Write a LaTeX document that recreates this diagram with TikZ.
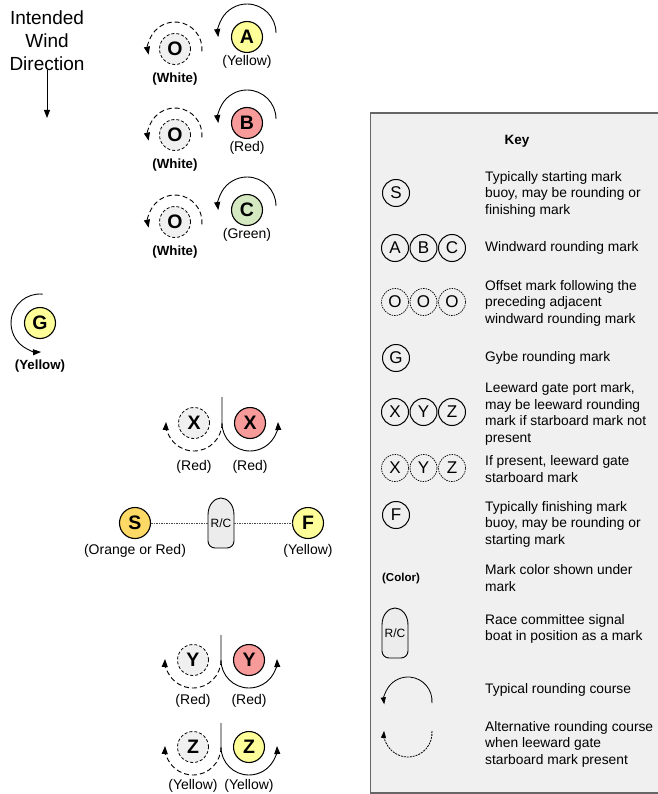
\documentclass[tikz,border=0pt]{standalone}
\usepackage{fontspec}
\setmainfont{Liberation Sans}
\usetikzlibrary{arrows.meta}
\definecolor{myyellow}{HTML}{FFFF99}
\definecolor{myred}{HTML}{F79A9A}
\definecolor{mygreen}{HTML}{D4E8C2}
\definecolor{myorange}{HTML}{FFD966}
\definecolor{offgray}{HTML}{F0F0F0}
\definecolor{boatgray}{HTML}{ECECEC}
\definecolor{keygray}{HTML}{F0F0F0}
\definecolor{keyborder}{HTML}{666666}
\newcommand\rcboatshape[1]{%
  \draw[line width=0.9pt, fill=boatgray, shift={(#1)}]
    (-13,8) .. controls (-13,19) and (-6,25) .. (0,25)
    .. controls (6,25) and (13,19) .. (13,8)
    -- (13,-18) arc[start angle=0,end angle=-90,radius=7]
    -- (-6,-25) arc[start angle=270,end angle=180,radius=7] -- cycle;}
\tikzset{
  buoy/.style={circle, draw, line width=1.1pt, minimum size=31pt, inner sep=0pt,
    font=\fontsize{19.5}{19.5}\selectfont\bfseries},
  offbuoy/.style={buoy, fill=offgray, dash pattern=on 3pt off 2pt, line width=0.8pt},
  lbl/.style={inner sep=0pt, font=\fontsize{14}{16}\selectfont},
  blbl/.style={inner sep=0pt, font=\fontsize{13.3}{16}\selectfont\bfseries},
  keybuoy/.style={circle, draw, line width=1pt, minimum size=27pt, inner sep=0pt,
    font=\fontsize{17}{17}\selectfont},
  keyoff/.style={keybuoy, dash pattern=on 1.5pt off 1pt, line width=0.7pt},
  keytxt/.style={anchor=west, inner sep=0pt, align=left, font=\fontsize{13.8}{16.5}\selectfont},
  course/.style={line width=0.9pt, -{Triangle[length=8pt,width=6pt]}},
  altcourse/.style={course, dash pattern=on 5pt off 3pt},
  keycourse/.style={line width=0.8pt, -{Triangle[length=7pt,width=5pt]}},
  keyalt/.style={keycourse, dash pattern=on 2pt off 1pt},
  boatlbl/.style={inner sep=0pt, font=\fontsize{12}{12}\selectfont},
  tether/.style={line width=0.6pt, draw=black!70, dash pattern=on 1.5pt off 1pt},
}
\begin{document}
\begin{tikzpicture}[x=1pt,y=1pt]
\useasboundingbox (0,0) rectangle (657,-794);

% Wind direction
\node[inner sep=0pt, align=center, font=\fontsize{19}{23}\selectfont] (wind) at (47,-41)
  {Intended\\Wind\\Direction};
\coordinate (wa) at (47,-70);
\coordinate (wb) at (47,-118);
\draw[line width=0.9pt, -{Triangle[length=8pt,width=6pt]}] (wa) -- (wb);

% Windward marks and offsets
\foreach \n/\L/\col/\cname/\yy in {1/A/myyellow/Yellow/37, 2/B/myred/Red/123, 3/C/mygreen/Green/210} {
  \node[buoy, fill=\col] (w\n) at (247,-\yy) {\L};
  \node[lbl] (w\n l) at (247,-\yy-25) {(\cname)};
  \draw[course] ([shift={(0,4)},shift={(0:29)}]w\n.center) arc[start angle=0,end angle=188,radius=29];
  \node[offbuoy] (o\n) at (175,-\yy-12) {O};
  \node[blbl] (o\n l) at (175,-\yy-42) {(White)};
  \draw[altcourse] ([shift={(-5:27)}]o\n.center) arc[start angle=-5,end angle=192,radius=27];
}

% Gybe mark
\node[buoy, fill=myyellow] (g) at (40,-323) {G};
\node[blbl] (gl) at (40,-366) {(Yellow)};
\draw[course] ([shift={(85:29)}]g.center) arc[start angle=85,end angle=272,radius=29];

% X gate
\coordinate (xtop) at (222,-397);
\node[offbuoy] (xl) at (194,-423) {X};
\node[buoy, fill=myred] (xr) at (250,-423) {X};
\node[lbl] (xll) at (194,-467) {(Red)};
\node[lbl] (xrl) at (250,-467) {(Red)};
\draw[course] (xtop) -- ([shift={(180:28)}]xr.center) arc[start angle=180,end angle=362,radius=28];
\draw[altcourse] ([shift={(0:28)}]xl.center) arc[start angle=0,end angle=-182,radius=28];

% Start / finish line
\rcboatshape{221,-523}
\node[boatlbl] (rc) at (221,-523) {R/C};
\node[buoy, fill=myorange] (s) at (135,-523) {S};
\node[buoy, fill=myyellow] (f) at (308,-523) {F};
\node[lbl] (sl) at (135,-551) {(Orange or Red)};
\node[lbl] (fl) at (308,-551) {(Yellow)};
\draw[tether] (s) -- (208,-523);
\draw[tether] (234,-523) -- (f);

% Y gate
\coordinate (ytop) at (221,-635);
\node[offbuoy] (yl) at (193,-660) {Y};
\node[buoy, fill=myred] (yr) at (249,-660) {Y};
\node[lbl] (yll) at (193,-701) {(Red)};
\node[lbl] (yrl) at (249,-701) {(Red)};
\draw[course] (ytop) -- ([shift={(180:28)}]yr.center) arc[start angle=180,end angle=362,radius=28];
\draw[altcourse] ([shift={(0:28)}]yl.center) arc[start angle=0,end angle=-182,radius=28];

% Z gate
\coordinate (ztop) at (221,-723);
\node[offbuoy] (zl) at (193,-747) {Z};
\node[buoy, fill=myyellow] (zr) at (249,-747) {Z};
\node[lbl] (zll) at (193,-786) {(Yellow)};
\node[lbl] (zrl) at (249,-786) {(Yellow)};
\draw[course] (ztop) -- ([shift={(180:28)}]zr.center) arc[start angle=180,end angle=362,radius=28];
\draw[altcourse] ([shift={(0:28)}]zl.center) arc[start angle=0,end angle=-182,radius=28];

% Key box
\draw[fill=keygray, draw=keyborder, line width=1.5pt] (370.5,-113) rectangle (668,-793);
\node[inner sep=0pt, font=\fontsize{13.5}{15}\selectfont\bfseries] (keyt) at (517,-141) {Key};

\node[keybuoy] (ks) at (396,-193) {S};
\node[keytxt] (kst) at (485,-194) {Typically starting mark\\buoy, may be rounding or\\finishing mark};

\node[keybuoy] (ka) at (395,-248) {A};
\node[keybuoy] (kb) at (423.5,-248) {B};
\node[keybuoy] (kc) at (452,-248) {C};
\node[keytxt] (kat) at (485,-248) {Windward rounding mark};

\node[keyoff] (ko1) at (395,-302) {O};
\node[keyoff] (ko2) at (423.5,-302) {O};
\node[keyoff] (ko3) at (452,-302) {O};
\node[keytxt] (kot) at (485,-303) {Offset mark following the\\preceding adjacent\\windward rounding mark};

\node[keybuoy] (kg) at (396,-358) {G};
\node[keytxt] (kgt) at (485,-358) {Gybe rounding mark};

\node[keybuoy] (kx) at (395,-412) {X};
\node[keybuoy] (ky) at (423.5,-412) {Y};
\node[keybuoy] (kz) at (452,-412) {Z};
\node[keytxt] (kxt) at (485,-414) {Leeward gate port mark,\\may be leeward rounding\\mark if starboard mark not\\present};

\node[keyoff] (kx2) at (395,-468) {X};
\node[keyoff] (ky2) at (423.5,-468) {Y};
\node[keyoff] (kz2) at (452,-468) {Z};
\node[keytxt] (kx2t) at (485,-469) {If present, leeward gate\\starboard mark};

\node[keybuoy] (kf) at (396,-515) {F};
\node[keytxt] (kft) at (485,-524) {Typically finishing mark\\buoy, may be rounding or\\starting mark};

\node[inner sep=0pt, font=\fontsize{11.5}{13}\selectfont\bfseries] (kcol) at (401,-579) {(Color)};
\node[keytxt] (kcolt) at (485,-578) {Mark color shown under\\mark};

\rcboatshape{395,-633}
\node[boatlbl] (krc) at (395,-633) {R/C};
\node[keytxt] (krct) at (485,-629) {Race committee signal\\boat in position as a mark};

\coordinate (kc1) at (408,-701);
\draw[keycourse] ([shift={(-5:24)}]kc1) arc[start angle=-5,end angle=188,radius=24];
\node[keytxt] (kc1t) at (485,-690) {Typical rounding course};

\coordinate (kc2) at (408,-733);
\draw[keyalt] ([shift={(5:24)}]kc2) arc[start angle=5,end angle=-185,radius=24];
\node[keytxt] (kc2t) at (485,-744) {Alternative rounding course\\when leeward gate\\starboard mark present};
\end{tikzpicture}
\end{document}
